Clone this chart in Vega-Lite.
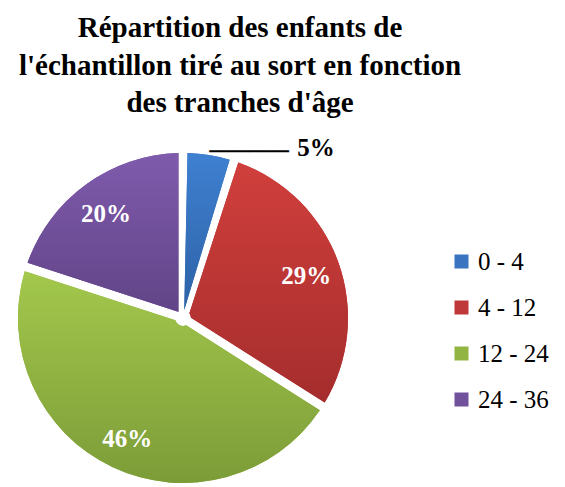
{
  "$schema": "https://vega.github.io/schema/vega-lite/v6.json",
  "autosize": {"type": "none"},
  "width": 366,
  "height": 336,
  "padding": {"left": 0, "top": 150, "right": 199, "bottom": 1},
  "background": "white",
  "title": {
    "text": ["Répartition des enfants de", "l'échantillon tiré au sort en fonction", "des tranches d'âge"],
    "font": "Liberation Serif, Times New Roman, serif",
    "fontSize": 29,
    "fontWeight": "bold",
    "lineHeight": 37.5,
    "anchor": "middle",
    "frame": "group",
    "dx": 57,
    "offset": 18,
    "color": "black"
  },
  "data": {
    "values": [
      {"tranche": "0 - 4", "pct": 0.05, "rang": 1},
      {"tranche": "4 - 12", "pct": 0.29, "rang": 2},
      {"tranche": "12 - 24", "pct": 0.46, "rang": 3},
      {"tranche": "24 - 36", "pct": 0.20, "rang": 4}
    ]
  },
  "config": {"view": {"stroke": null}},
  "layer": [
    {
      "mark": {"type": "arc", "radius": 165, "innerRadius": 8, "padAngle": 0.055},
      "encoding": {
        "theta": {"field": "pct", "type": "quantitative", "stack": true},
        "order": {"field": "rang", "type": "quantitative"},
        "color": {
          "field": "tranche",
          "type": "nominal",
          "scale": {
            "domain": ["0 - 4", "4 - 12", "12 - 24", "24 - 36"],
            "range": ["#3a73c0", "#c0393a", "#92b443", "#71509c"]
          },
          "legend": {
            "title": null,
            "orient": "none",
            "legendX": 449,
            "legendY": 99,
            "padding": 0,
            "symbolType": "square",
            "symbolSize": 196,
            "symbolStrokeWidth": 0,
            "labelFont": "Liberation Serif, Times New Roman, serif",
            "labelFontSize": 25,
            "labelColor": "black",
            "labelOffset": 4,
            "rowPadding": 20
          }
        }
      }
    },
    {
      "mark": {"type": "arc", "radius": 165, "innerRadius": 8, "padAngle": 0.055},
      "encoding": {
        "theta": {"field": "pct", "type": "quantitative", "stack": true},
        "order": {"field": "rang", "type": "quantitative"},
        "color": {
          "condition": [
            {"test": "datum.tranche === '0 - 4'", "value": {"gradient": "linear", "x1": 0, "y1": 0, "x2": 0, "y2": 1, "stops": [{"offset": 0, "color": "#3f80d1"}, {"offset": 1, "color": "#2d62a6"}]}},
            {"test": "datum.tranche === '4 - 12'", "value": {"gradient": "linear", "x1": 0, "y1": 0, "x2": 0, "y2": 1, "stops": [{"offset": 0, "color": "#d03f3c"}, {"offset": 1, "color": "#a52d2d"}]}},
            {"test": "datum.tranche === '12 - 24'", "value": {"gradient": "linear", "x1": 0, "y1": 0, "x2": 0, "y2": 1, "stops": [{"offset": 0, "color": "#a3c84c"}, {"offset": 1, "color": "#7c9c38"}]}}
          ],
          "value": {"gradient": "linear", "x1": 0, "y1": 0, "x2": 0, "y2": 1, "stops": [{"offset": 0, "color": "#805bad"}, {"offset": 1, "color": "#614487"}]}
        }
      }
    },
    {
      "mark": {"type": "text", "radius": 131, "font": "Liberation Serif, Times New Roman, serif", "fontSize": 25, "fontWeight": "bold", "color": "white", "align": "center", "baseline": "middle", "dy": 2},
      "encoding": {
        "theta": {"field": "pct", "type": "quantitative", "stack": true},
        "order": {"field": "rang", "type": "quantitative"},
        "text": {"field": "pct", "type": "quantitative", "format": ".0%"},
        "opacity": {"condition": {"test": "datum.tranche !== '0 - 4'", "value": 1}, "value": 0}
      }
    },
    {
      "mark": {"type": "text", "radius": 168, "font": "DejaVu Sans", "fontSize": 22, "color": "black", "align": "left", "baseline": "middle"},
      "encoding": {
        "theta": {"field": "pct", "type": "quantitative", "stack": true},
        "order": {"field": "rang", "type": "quantitative"},
        "text": {"value": "──────"},
        "opacity": {"condition": {"test": "datum.tranche === '0 - 4'", "value": 1}, "value": 0}
      }
    },
    {
      "mark": {"type": "text", "radius": 168, "font": "Liberation Serif, Times New Roman, serif", "fontSize": 25, "fontWeight": "bold", "color": "black", "align": "left", "baseline": "middle", "dx": 88, "dy": -4},
      "encoding": {
        "theta": {"field": "pct", "type": "quantitative", "stack": true},
        "order": {"field": "rang", "type": "quantitative"},
        "text": {"field": "pct", "type": "quantitative", "format": ".0%"},
        "opacity": {"condition": {"test": "datum.tranche === '0 - 4'", "value": 1}, "value": 0}
      }
    }
  ]
}
